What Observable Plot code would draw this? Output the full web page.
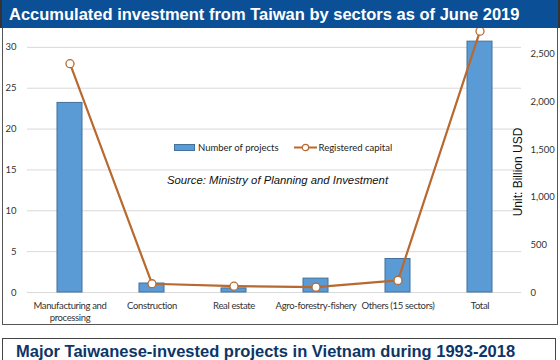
<!DOCTYPE html>
<html>
<head>
<meta charset="utf-8">
<script src="https://cdn.jsdelivr.net/npm/d3@7"></script>
<script src="https://cdn.jsdelivr.net/npm/@observablehq/plot@0.6"></script>
<style>
  html, body { margin: 0; padding: 0; background: #fff; }
  body { width: 560px; height: 360px; position: relative; overflow: hidden; font-family: "Liberation Sans", Arial, sans-serif; }
  #frame { position: absolute; left: 2px; top: 27px; width: 554px; height: 297px; border: 1px solid #555; border-top: none; box-sizing: content-box; }
  #title { position: absolute; left: 0; top: 0; width: 560px; height: 28px; background: #0b4f96; color: #fff; font-weight: bold; font-size: 16.5px; line-height: 28px; padding-left: 7px; border-left: 2px solid #333; border-right: 2px solid #333; box-sizing: border-box; z-index: 3; white-space: nowrap; }
  #chart { position: absolute; left: 0; top: 0; z-index: 1; }
  #chart g[aria-label="x-axis tick label"] text { letter-spacing: -0.35px; }
  #legend { position: absolute; left: 174px; top: 142px; font-family: Lato, sans-serif; font-size: 9.5px; color: #222; z-index: 2; display: flex; align-items: center; white-space: nowrap; }
  .sw { display: inline-block; width: 19px; height: 5px; background: #5b9bd5; border: 1px solid #41719c; margin-right: 3px; }
  .ln { display: inline-block; width: 23px; height: 9px; margin-right: 2px; margin-left: 15px; }
  #source { position: absolute; left: 167px; top: 174px; font-style: italic; font-size: 11.3px; color: #111; z-index: 2; white-space: nowrap; }
  #unit { position: absolute; left: 518px; top: 172px; transform: translate(-50%, -50%) rotate(-90deg); font-size: 12px; color: #111; z-index: 2; white-space: nowrap; }
  #bottom { position: absolute; left: 2px; top: 338px; width: 554px; height: 30px; border: 1px solid #444; background: #fff; color: #0d3567; font-weight: bold; font-size: 16.5px; line-height: 24px; padding-left: 13px; box-sizing: border-box; white-space: nowrap; }
</style>
</head>
<body>
<div id="title">Accumulated investment from Taiwan by sectors as of June 2019</div>
<div id="frame"></div>
<div id="chart"></div>
<div id="legend"><span class="sw"></span>Number of projects<svg class="ln" viewBox="0 0 23 9"><line x1="0" y1="4.5" x2="23" y2="4.5" stroke="#b8692f" stroke-width="2"/><circle cx="11.5" cy="4.5" r="3.2" fill="#fff" stroke="#b8692f" stroke-width="1.2"/></svg>Registered capital</div>
<div id="source">Source: Ministry of Planning and Investment</div>
<div id="unit">Unit: Billion USD</div>
<div id="bottom">Major Taiwanese-invested projects in Vietnam during 1993-2018</div>
<script>
const sectors = ["Manufacturing and processing", "Construction", "Real estate", "Agro-forestry-fishery", "Others (15 sectors)", "Total"];
const sectorLabels = ["Manufacturing and\nprocessing", "Construction", "Real estate", "Agro-forestry-fishery", "Others (15 sectors)", "Total"];
const projects = [23.2, 1.1, 0.5, 1.7, 4.1, 30.7];
const capital = [2400, 92, 66, 56, 127, 2741];
const leftTicks = [0, 5, 10, 15, 20, 25, 30];
const rightTicks = [0, 500, 1000, 1500, 2000, 2500];
const leftMax = 35, rightMax = 3000;
const ratio = rightMax / leftMax;

const data = sectors.map((s, i) => ({sector: s, projects: projects[i], capital: capital[i], cap: capital[i] / ratio}));
const labelOf = Object.fromEntries(sectors.map((s, i) => [s, sectorLabels[i]]));

const blue = "#5b9bd5", blueStroke = "#41719c", brown = "#b8692f";
const axisFont = "Lato, sans-serif";

const chart = Plot.plot({
  width: 560,
  height: 326,
  marginLeft: 27,
  marginRight: 39,
  marginTop: 6,
  marginBottom: 34,
  style: {fontFamily: axisFont, fontSize: "9px", color: "#333", background: "transparent"},
  x: {domain: sectors, paddingInner: 0.7, paddingOuter: 0.35, label: null},
  y: {domain: [0, leftMax], label: null},
  marks: [
    Plot.gridY(leftTicks, {stroke: "#d9d9d9", strokeOpacity: 1}),
    Plot.axisY(leftTicks, {anchor: "left", tickSize: 0, tickPadding: 11, label: null, fontSize: 9.5}),
    Plot.axisY(rightTicks.map(d => d / ratio), {anchor: "right", tickSize: 0, tickPadding: 9, label: null, fontSize: 9.5, tickFormat: d => d3.format(",")(Math.round(d * ratio)), textAnchor: "start"}),
    Plot.axisX({tickSize: 0, tickPadding: 8, label: null, fontSize: 9.5, lineHeight: 1.25, tickFormat: d => labelOf[d]}),
    Plot.barY(data, {x: "sector", y: "projects", fill: blue, stroke: blueStroke, strokeWidth: 1}),
    Plot.line(data, {x: "sector", y: "cap", stroke: brown, strokeWidth: 2.2, curve: "linear"}),
    Plot.dot(data, {x: "sector", y: "cap", r: 4, fill: "#fff", stroke: brown, strokeWidth: 1.3})
  ]
});
document.getElementById("chart").appendChild(chart);
</script>
</body>
</html>
